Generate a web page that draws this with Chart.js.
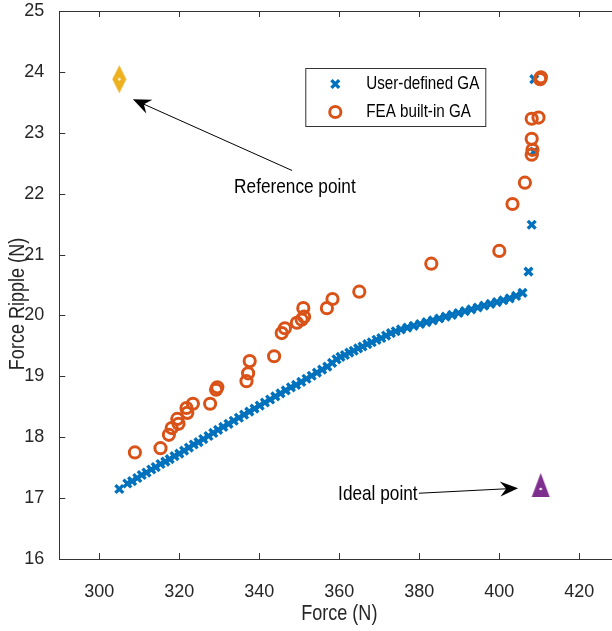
<!DOCTYPE html>
<html>
<head>
<meta charset="utf-8">
<script src="https://cdn.jsdelivr.net/npm/chart.js@4.4.1/dist/chart.umd.min.js"></script>
<style>
  html, body { margin: 0; padding: 0; background: #fff; overflow: hidden; }
  #wrap { width: 612px; height: 631px; overflow: hidden; }
</style>
</head>
<body>
<div id="wrap"><canvas id="chart" width="620" height="631"></canvas></div>
<script>
// values
const userForce = [305.0, 307.0, 308.2, 309.5, 310.6, 311.8, 313.0, 314.1, 315.3, 316.5, 317.6, 318.8,
  320.0, 321.2, 322.4, 323.6, 324.8, 326.0, 327.3, 328.5, 329.7, 331.0, 332.3, 333.6, 334.9, 336.2,
  337.5, 338.8, 340.1, 341.4, 342.7, 344.0, 345.3, 346.6, 347.9, 349.2, 350.5, 351.8, 353.1, 354.4,
  355.7, 357.0, 358.2, 359.3, 360.3, 361.4, 362.5, 363.6, 364.7, 365.8, 367.0, 368.1, 369.3, 370.5,
  371.7, 372.9, 374.1, 375.4, 377.0, 378.6, 380.2, 381.8, 383.4, 385.0, 386.6, 388.2, 389.8, 391.4,
  393.0, 394.6, 396.2, 397.8, 399.4, 401.0, 402.6, 404.2, 405.8, 407.3, 408.1, 408.7, 408.75];
const userRipple = [17.15, 17.24, 17.28, 17.33, 17.38, 17.42, 17.47, 17.51, 17.56, 17.60, 17.64, 17.69,
  17.73, 17.78, 17.83, 17.88, 17.92, 17.97, 18.02, 18.07, 18.12, 18.17, 18.22, 18.27, 18.32, 18.37,
  18.42, 18.47, 18.52, 18.57, 18.62, 18.67, 18.72, 18.77, 18.82, 18.86, 18.91, 18.96, 19.01, 19.06,
  19.11, 19.16, 19.22, 19.28, 19.32, 19.35, 19.39, 19.42, 19.46, 19.49, 19.53, 19.56, 19.60, 19.63,
  19.67, 19.71, 19.74, 19.77, 19.80, 19.83, 19.86, 19.89, 19.92, 19.95, 19.98, 20.01, 20.04, 20.07,
  20.10, 20.13, 20.16, 20.19, 20.22, 20.25, 20.28, 20.32, 20.37, 20.72, 21.49, 22.69, 23.88];

const feaForce = [308.9, 315.3, 317.4, 318.1, 319.5, 319.8, 321.8, 322.0, 323.4, 327.7, 329.2, 329.5,
  336.8, 337.2, 337.6, 343.7, 345.6, 346.4, 349.4, 350.6, 351.2, 351.0, 356.9, 358.3, 365.0,
  383.0, 400.0, 403.3, 406.4, 408.1, 408.3, 408.1, 408.1, 409.8, 410.2, 410.4];
const feaRipple = [17.75, 17.82, 18.04, 18.15, 18.30, 18.22, 18.48, 18.40, 18.55, 18.55, 18.78, 18.82,
  18.92, 19.05, 19.25, 19.33, 19.71, 19.79, 19.88, 19.93, 19.98, 20.12, 20.12, 20.27, 20.39,
  20.85, 21.06, 21.83, 22.18, 22.64, 22.72, 22.90, 23.23, 23.25, 23.88, 23.91];

const refPoint = [305.0, 23.88];
const idealPoint = [410.35, 17.15];

const xTicks = [300, 320, 340, 360, 380, 400, 420];
const yTicks = [16, 17, 18, 19, 20, 21, 22, 23, 24, 25];

const seriesNames = ['User-defined GA', 'FEA built-in GA'];

// annotations: [text, x, y] and arrow [from x, from y, to x, to y] in data units
const refLabel = ['Reference point', 348.9, 22.11];
const refArrow = [348.2, 22.38, 308.4, 23.55];
const idealLabel = ['Ideal point', 359.7, 17.06];
const idealArrow = [379.9, 17.08, 404.7, 17.163];

const FONT = '"Liberation Sans", Arial, sans-serif';
const BLUE = '#0072BD';
const ORANGE = '#D95319';
const AXIS = '#333333';
const NARROW = 0.82; // reference uses a condensed Helvetica

function toXY(xs, ys) {
  return xs.map((x, i) => ({ x: x, y: ys[i] }));
}

// text squeezed horizontally to mimic the narrow face
function narrowText(ctx, text, x, y, align, size, rot) {
  ctx.save();
  ctx.translate(x, y);
  if (rot) ctx.rotate(rot);
  ctx.scale(NARROW, 1);
  ctx.font = size + 'px ' + FONT;
  ctx.textAlign = align;
  ctx.textBaseline = 'middle';
  ctx.fillText(text, 0, 0);
  ctx.restore();
}

// tall diamond marker with white centre dot
function makeDiamond() {
  const c = document.createElement('canvas');
  c.width = 15; c.height = 29;
  const g = c.getContext('2d');
  g.fillStyle = '#EDB120';
  g.beginPath();
  g.moveTo(7.5, 0.5); g.lineTo(14.5, 14.5); g.lineTo(7.5, 28.5); g.lineTo(0.5, 14.5);
  g.closePath(); g.fill();
  g.fillStyle = '#fff';
  g.beginPath(); g.arc(7.5, 14.5, 1.3, 0, Math.PI * 2); g.fill();
  return c;
}

// tall triangle, centre dot at 2/3 height
function makeTriangle() {
  const c = document.createElement('canvas');
  c.width = 19; c.height = 32;
  const g = c.getContext('2d');
  g.fillStyle = '#7E2F8E';
  g.beginPath();
  g.moveTo(9.5, 0); g.lineTo(18.5, 24); g.lineTo(0.5, 24);
  g.closePath(); g.fill();
  g.fillStyle = '#fff';
  g.beginPath(); g.arc(9.5, 16, 1.3, 0, Math.PI * 2); g.fill();
  return c;
}

function drawArrow(ctx, x1, y1, x2, y2) {
  const ang = Math.atan2(y2 - y1, x2 - x1);
  const len = 18, half = 7.5, notch = 12;
  ctx.save();
  ctx.strokeStyle = '#000';
  ctx.fillStyle = '#000';
  ctx.lineWidth = 1;
  ctx.beginPath();
  ctx.moveTo(x1, y1);
  ctx.lineTo(x2 - Math.cos(ang) * notch, y2 - Math.sin(ang) * notch);
  ctx.stroke();
  ctx.translate(x2, y2);
  ctx.rotate(ang);
  ctx.beginPath();
  ctx.moveTo(0, 0);
  ctx.lineTo(-len, -half);
  ctx.lineTo(-notch, 0);
  ctx.lineTo(-len, half);
  ctx.closePath();
  ctx.fill();
  ctx.restore();
}

function noPad(s) {
  s.paddingTop = 0; s.paddingBottom = 0; s.paddingLeft = 0; s.paddingRight = 0;
}

const boxPlugin = {
  id: 'matlabBox',
  beforeDatasetsDraw(chart) {
    const { ctx, chartArea: a, scales } = chart;
    ctx.save();
    ctx.strokeStyle = AXIS;
    ctx.lineWidth = 1;
    ctx.strokeRect(Math.round(a.left) + 0.5, Math.round(a.top) + 0.5,
      Math.round(a.right - a.left), Math.round(a.bottom - a.top));
    ctx.beginPath();
    xTicks.forEach(v => {
      const px = Math.round(scales.x.getPixelForValue(v)) + 0.5;
      ctx.moveTo(px, a.bottom); ctx.lineTo(px, a.bottom - 6);
      ctx.moveTo(px, a.top); ctx.lineTo(px, a.top + 6);
    });
    yTicks.forEach(v => {
      const py = Math.round(scales.y.getPixelForValue(v)) + 0.5;
      ctx.moveTo(a.left, py); ctx.lineTo(a.left + 6, py);
      ctx.moveTo(a.right, py); ctx.lineTo(a.right - 6, py);
    });
    ctx.stroke();

    // axis titles
    ctx.fillStyle = '#262626';
    narrowText(ctx, 'Force (N)', (a.left + a.right) / 2, a.bottom + 55, 'center', 22);
    narrowText(ctx, 'Force Ripple (N)', 17.5, (a.top + a.bottom) / 2 + 19, 'center', 22, -Math.PI / 2);
    ctx.restore();
  },
  afterDatasetsDraw(chart) {
    const { ctx, chartArea: a, scales } = chart;
    const sx = v => scales.x.getPixelForValue(v);
    const sy = v => scales.y.getPixelForValue(v);
    ctx.save();

    // annotations
    ctx.fillStyle = '#000';
    narrowText(ctx, refLabel[0], sx(refLabel[1]), sy(refLabel[2]), 'center', 21);
    narrowText(ctx, idealLabel[0], sx(idealLabel[1]), sy(idealLabel[2]), 'left', 21);
    drawArrow(ctx, sx(refArrow[0]), sy(refArrow[1]), sx(refArrow[2]), sy(refArrow[3]));
    drawArrow(ctx, sx(idealArrow[0]), sy(idealArrow[1]), sx(idealArrow[2]), sy(idealArrow[3]));

    // legend box
    const lx = a.left + 246, ly = a.top + 57, lw = 180, lh = 58;
    ctx.fillStyle = '#fff';
    ctx.fillRect(lx, ly, lw, lh);
    ctx.strokeStyle = AXIS;
    ctx.lineWidth = 1;
    ctx.strokeRect(lx + 0.5, ly + 0.5, lw, lh);

    ctx.strokeStyle = BLUE;
    ctx.lineWidth = 3.4;
    Chart.helpers.drawPoint(ctx, { pointStyle: 'crossRot', radius: 5.5, borderWidth: 3.4 }, lx + 30, ly + 16);
    ctx.strokeStyle = ORANGE;
    ctx.lineWidth = 3;
    ctx.fillStyle = 'rgba(0,0,0,0)';
    Chart.helpers.drawPoint(ctx, { pointStyle: 'circle', radius: 5.6, borderWidth: 3 }, lx + 30, ly + 44);

    ctx.fillStyle = '#000';
    narrowText(ctx, seriesNames[0], lx + 61, ly + 16, 'left', 18.5);
    narrowText(ctx, seriesNames[1], lx + 61, ly + 44, 'left', 18.5);
    ctx.restore();
  }
};

const ctx = document.getElementById('chart').getContext('2d');
new Chart(ctx, {
  type: 'scatter',
  data: {
    datasets: [
      {
        label: seriesNames[1],
        data: toXY(feaForce, feaRipple),
        pointStyle: 'circle',
        pointRadius: 5.6,
        borderWidth: 3,
        borderColor: ORANGE,
        backgroundColor: 'rgba(0,0,0,0)',
        order: 1
      },
      {
        label: seriesNames[0],
        data: toXY(userForce, userRipple),
        pointStyle: 'crossRot',
        pointRadius: 5.5,
        borderWidth: 3.4,
        borderColor: BLUE,
        backgroundColor: BLUE,
        order: 2
      },
      {
        label: 'Reference point',
        data: [{ x: refPoint[0], y: refPoint[1] }],
        pointStyle: makeDiamond(),
        pointRadius: 5,
        order: 0
      },
      {
        label: 'Ideal point',
        data: [{ x: idealPoint[0], y: idealPoint[1] }],
        pointStyle: makeTriangle(),
        pointRadius: 5,
        order: 0
      }
    ]
  },
  options: {
    responsive: false,
    animation: false,
    devicePixelRatio: 1,
    events: [],
    // canvas is wider than the page, so the right side of the plot box is cut off
    layout: { autoPadding: false, padding: { top: 11, right: 0.7, left: 0, bottom: 0 } },
    plugins: { legend: { display: false }, tooltip: { enabled: false } },
    scales: {
      x: {
        type: 'linear',
        min: 290,
        max: 430,
        afterBuildTicks: s => { s.ticks = xTicks.map(v => ({ value: v })); },
        afterFit: s => { s.height = 72; noPad(s); },
        grid: { display: false },
        border: { display: false },
        ticks: { font: { family: FONT, size: 18 }, color: '#262626', padding: 14, maxRotation: 0, autoSkip: false }
      },
      y: {
        type: 'linear',
        min: 16,
        max: 25,
        afterBuildTicks: s => { s.ticks = yTicks.map(v => ({ value: v })); },
        afterFit: s => { s.width = 59.3; noPad(s); },
        grid: { display: false },
        border: { display: false },
        ticks: { font: { family: FONT, size: 18 }, color: '#262626', padding: 7, autoSkip: false }
      }
    }
  },
  plugins: [boxPlugin]
});
</script>
</body>
</html>
